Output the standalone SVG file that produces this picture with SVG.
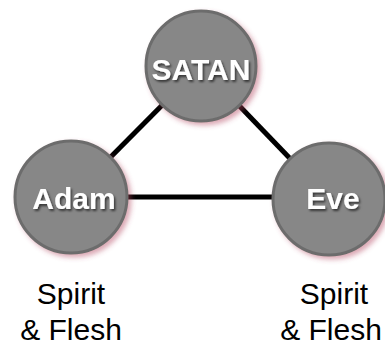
<svg xmlns="http://www.w3.org/2000/svg" width="385" height="346" viewBox="0 0 385 346">
<defs>
<filter id="glow" x="-20%" y="-20%" width="150%" height="150%">
<feDropShadow dx="3" dy="3" stdDeviation="2.5" flood-color="#b0405a" flood-opacity="0.45"/>
</filter>
<filter id="tshadow" x="-20%" y="-30%" width="140%" height="160%">
<feDropShadow dx="1.5" dy="2" stdDeviation="1.2" flood-color="#000" flood-opacity="0.6"/>
</filter>
</defs>
<style>
.conn line{stroke:#000;stroke-width:5;}
.node circle{fill:#878787;stroke:#6c6c6c;stroke-width:3;filter:url(#glow);}
.node text{font-family:"Liberation Sans",Arial,sans-serif;font-weight:bold;font-size:30px;fill:#fff;text-anchor:middle;filter:url(#tshadow);}
.lbl{font-family:"Liberation Sans",Arial,sans-serif;font-size:30px;fill:#000;text-anchor:middle;}
</style>
<g id="connectors" class="conn">
<line x1="71" y1="197" x2="201" y2="66"/>
<line x1="201" y1="66" x2="329" y2="199"/>
<line x1="71" y1="197" x2="329" y2="197"/>
</g>
<g id="satan" class="node">
<circle cx="201" cy="66" r="55"/>
<text x="201" y="80">SATAN</text>
</g>
<g id="adam" class="node">
<circle cx="71" cy="197" r="56"/>
<text x="74" y="209">Adam</text>
</g>
<g id="eve" class="node">
<circle cx="329" cy="199" r="56"/>
<text x="333" y="209">Eve</text>
</g>
<g id="labels">
<text class="lbl" x="71" y="304">Spirit</text>
<text class="lbl" x="71" y="340">&amp; Flesh</text>
<text class="lbl" x="334" y="304">Spirit</text>
<text class="lbl" x="331" y="340">&amp; Flesh</text>
</g>
</svg>
